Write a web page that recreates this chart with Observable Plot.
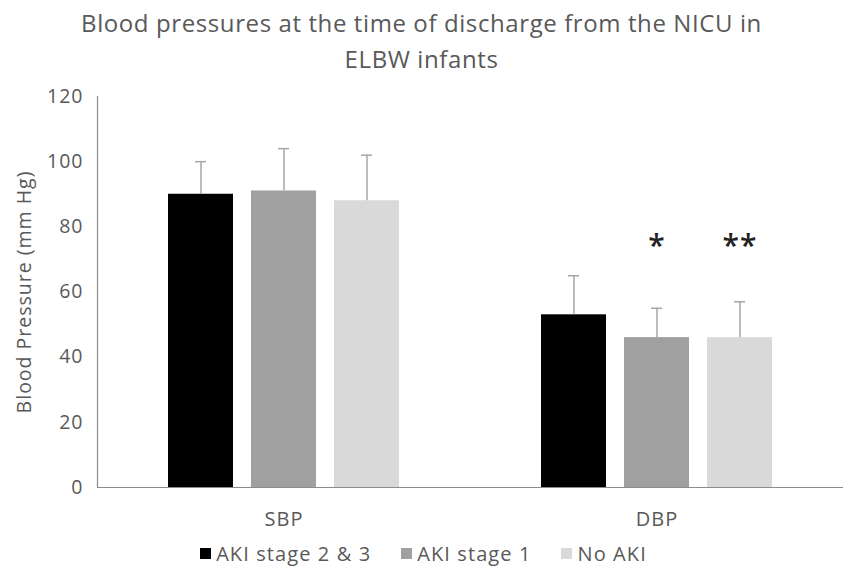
<!DOCTYPE html>
<html><head><meta charset="utf-8">
<script src="https://cdn.jsdelivr.net/npm/d3@7"></script>
<script src="https://cdn.jsdelivr.net/npm/@observablehq/plot@0.6"></script>
<style>
body{margin:0;background:#fff;font-family:"Open Sans",sans-serif;color:#595959}
#title{width:843px;text-align:center;font-size:24px;letter-spacing:0.6px;line-height:36px;height:80px;padding-top:5px;box-sizing:border-box}
#legend{width:843px;box-sizing:border-box;padding-left:4px;display:flex;justify-content:center;align-items:center;font-size:20px;letter-spacing:1.1px;line-height:27px;color:#595959;margin-top:3px}
#legend .item{display:flex;align-items:center;margin:0 15px}
#legend .sw{width:11px;height:11px;margin-right:5px}
</style></head>
<body>
<div id="title">Blood pressures at the time of discharge from the NICU in<br>ELBW infants</div>
<div id="chart"></div>
<div id="legend"></div>
<script>
const measures = ["SBP", "DBP"];
const groups = ["AKI stage 2 & 3", "AKI stage 1", "No AKI"];
const sbpMean = [90, 91, 88];
const sbpSD = [10, 13, 14];
const dbpMean = [53, 46, 46];
const dbpSD = [12, 9, 11];
const dbpSig = ["", "*", "**"];
const sigLevel = 74;
const colors = ["#000000", "#a0a0a0", "#d9d9d9"];
const yTicks = [0, 20, 40, 60, 80, 100, 120];
const yLabel = "Blood Pressure (mm Hg)";

const rows = [];
groups.forEach((g, i) => {
  rows.push({measure: "SBP", group: g, mean: sbpMean[i], sd: sbpSD[i], sig: ""});
});
groups.forEach((g, i) => {
  rows.push({measure: "DBP", group: g, mean: dbpMean[i], sd: dbpSD[i], sig: dbpSig[i]});
});
const sigRows = rows.filter(d => d.sig);

const chart = Plot.plot({
  width: 843,
  height: 457,
  marginLeft: 97,
  marginRight: 0,
  marginTop: 16,
  marginBottom: 50,
  style: {fontFamily: "Open Sans, sans-serif", fontSize: "20px", letterSpacing: "1px", color: "#595959", background: "#fff"},
  fx: {domain: measures, padding: 0},
  x: {domain: groups, paddingInner: 0.2156, paddingOuter: 0.844},
  y: {domain: [0, 120]},
  color: {domain: groups, range: colors},
  marks: [
    Plot.axisFx({anchor: "bottom", tickSize: 0, tickPadding: 24, fontSize: 20, label: null}),
    Plot.axisX({ticks: [], tickSize: 0, label: null}),
    Plot.axisY({ticks: yTicks, tickSize: 0, tickPadding: 14, fontSize: 19.5,
      label: yLabel, labelAnchor: "center", labelOffset: 80, labelArrow: "none"}),
    Plot.frame({anchor: "left", fx: ["SBP"], stroke: "#8c8c8c", strokeWidth: 1.2}),
    Plot.barY(rows, {fx: "measure", x: "group", y: "mean", fill: "group"}),
    Plot.ruleX(rows, {fx: "measure", x: "group", y1: "mean", y2: d => d.mean + d.sd, stroke: "#a6a6a6", strokeWidth: 1.5}),
    Plot.tickY(rows, {fx: "measure", x: "group", y: d => d.mean + d.sd, stroke: "#a6a6a6", strokeWidth: 1.5, insetLeft: 27, insetRight: 27}),
    Plot.ruleY([0], {stroke: "#8c8c8c", strokeWidth: 1.2}),
    Plot.text(sigRows, {fx: "measure", x: "group", y: sigLevel, text: "sig", fontSize: 30, fontWeight: 600, fill: "#222"})
  ]
});
document.getElementById("chart").appendChild(chart);

const legend = document.getElementById("legend");
groups.forEach((g, i) => {
  const it = document.createElement("div");
  it.className = "item";
  const sw = document.createElement("span");
  sw.className = "sw";
  sw.style.background = colors[i];
  const tx = document.createElement("span");
  tx.textContent = g;
  it.appendChild(sw); it.appendChild(tx);
  legend.appendChild(it);
});
</script>
</body></html>
